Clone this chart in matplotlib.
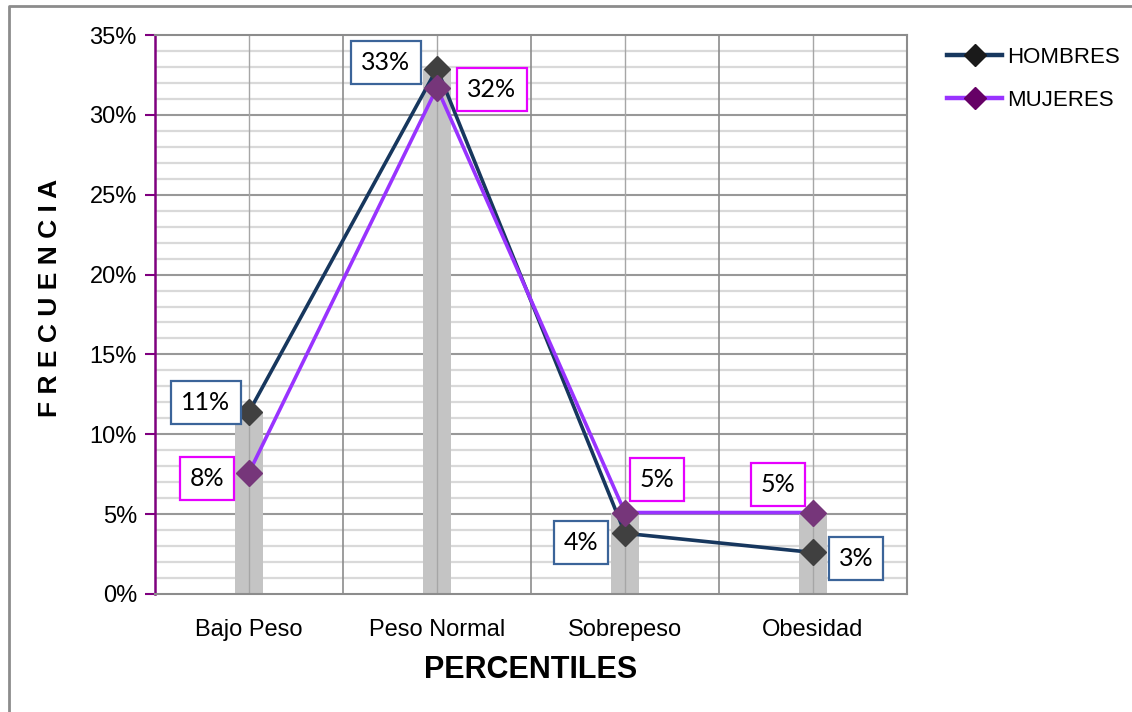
import numpy as np
import matplotlib
matplotlib.use("Agg")
import matplotlib.pyplot as plt
from matplotlib.lines import Line2D

categorias = ["Bajo Peso", "Peso Normal", "Sobrepeso", "Obesidad"]
hombres = [0.114, 0.329, 0.038, 0.026]
mujeres = [0.076, 0.317, 0.051, 0.051]
y_ticks = [0, 0.05, 0.10, 0.15, 0.20, 0.25, 0.30, 0.35]

SANS = ["Liberation Sans", "DejaVu Sans"]
LABEL_FONT = ["Lato", "DejaVu Sans"]

fig = plt.figure(figsize=(11.32, 7.12), dpi=100)
ax = fig.add_axes([155 / 1132, 118 / 712, 752 / 1132, 559 / 712])

x = np.arange(len(categorias))

# grid
ax.set_ylim(0, 0.35)
ax.set_xlim(-0.5, len(categorias) - 0.5)
for v in np.arange(0.01, 0.35, 0.01):
    ax.axhline(v, color="#d9d9d9", lw=1.6, zorder=0)
for v in y_ticks[1:]:
    ax.axhline(v, color="#8c8c8c", lw=1.2, zorder=0.5)
for b in np.arange(0.5, len(categorias) - 0.5, 1):
    ax.axvline(b, color="#8c8c8c", lw=1.2, zorder=0.5)

# gray drop bars from the highest value of each category
tope = np.maximum(hombres, mujeres)
ax.bar(x, tope, width=0.148, color="#c4c4c4", zorder=1)
for xi in x:
    ax.axvline(xi, color="#a6a6a6", lw=1.0, zorder=1.5)

ax.plot(x, hombres, color="#17375e", lw=2.6, marker="D", markersize=13,
        markerfacecolor="#404040", markeredgecolor="#404040", zorder=3,
        label="HOMBRES")
ax.plot(x, mujeres, color="#9933ff", lw=2.6, marker="D", markersize=13,
        markerfacecolor="#76367a", markeredgecolor="#76367a", zorder=4,
        label="MUJERES")

# data labels
off_h = [(-43, 9), (-51, 6), (-44, -9), (43, -6)]
off_m = [(-42, -6), (55, -2), (32, 33), (-35, 28)]
for serie, offs, borde in [(hombres, off_h, "#3b6499"), (mujeres, off_m, "#e600ff")]:
    for xi, v, o in zip(x, serie, offs):
        ax.annotate(f"{v:.0%}", (xi, v), xytext=o, textcoords="offset pixels",
                    ha="center", va="center", fontsize=18, family=LABEL_FONT,
                    zorder=5,
                    bbox=dict(boxstyle="square,pad=0.4", fc="white",
                              ec=borde, lw=1.6))

# axes
ax.set_yticks(y_ticks)
ax.set_yticklabels([f"{int(round(t * 100))}%" for t in y_ticks],
                   family=SANS, fontsize=17)
ax.set_xticks(x)
ax.set_xticklabels(categorias, family=SANS, fontsize=17)
ax.tick_params(axis="y", color="#7f007f", length=7, width=1.5, pad=6)
ax.tick_params(axis="x", length=0, pad=18)
for s in ["top", "right", "bottom"]:
    ax.spines[s].set_color("#8c8c8c")
    ax.spines[s].set_linewidth(1.5)
ax.spines["left"].set_color("#7f007f")
ax.spines["left"].set_linewidth(1.8)

ax.set_xlabel("PERCENTILES", family=SANS, fontsize=22, fontweight="bold",
              labelpad=10)
ax.set_ylabel("F R E C U E N C I A", family=SANS, fontsize=19,
              fontweight="bold")
ax.yaxis.set_label_coords(-0.124, 0.53)

leg = fig.legend(loc="upper left", bbox_to_anchor=(938 / 1132, 1 - 38 / 712),
                 frameon=False, prop={"family": SANS, "size": 16},
                 handlelength=2.5, handletextpad=0.2, labelspacing=1.0,
                 borderaxespad=0)
for ln in leg.get_lines():
    ln.set_linewidth(3.2)
    ln.set_markersize(11)
leg.get_lines()[0].set_markerfacecolor("#1a1a1a")
leg.get_lines()[0].set_markeredgecolor("#1a1a1a")
leg.get_lines()[1].set_markerfacecolor("#660066")
leg.get_lines()[1].set_markeredgecolor("#660066")

# chart border
fig.add_artist(Line2D([9 / 1132, 9 / 1132, 1], [0, 1 - 6 / 712, 1 - 6 / 712],
                      color="#8c8c8c", lw=2, transform=fig.transFigure))

fig.savefig("out.png", dpi=100, facecolor="white")
